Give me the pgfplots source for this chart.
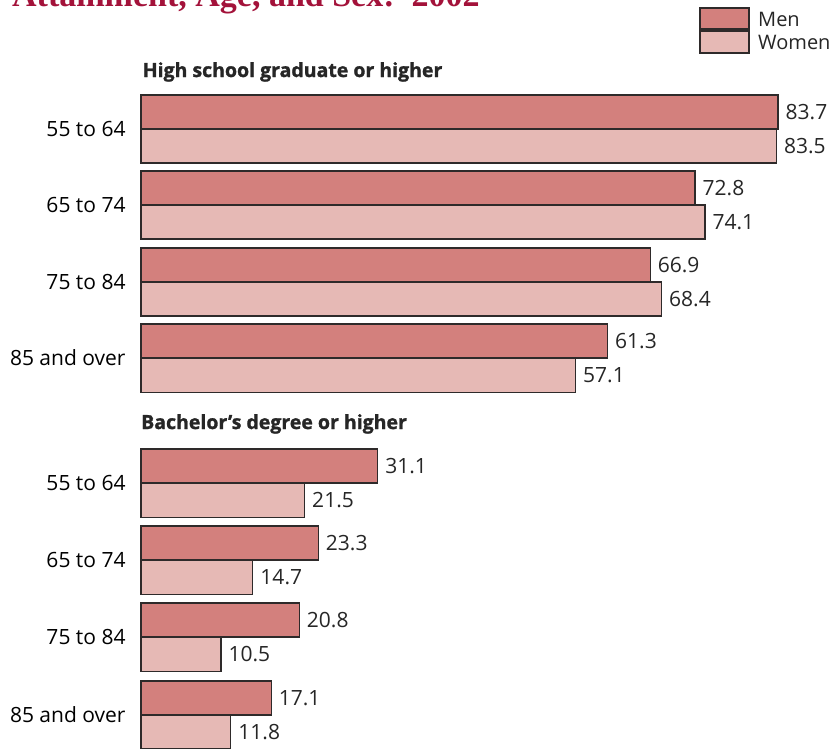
\documentclass[border=0pt]{standalone}
\usepackage{pgfplots}
\pgfplotsset{compat=1.18}
\usepackage{fontspec}
\setmainfont{Open Sans}
\newfontfamily\titlefont{Liberation Serif}
\newfontfamily\heavyfont{Open Sans}[BoldFeatures={FakeBold=1.3}]

\definecolor{menfill}{HTML}{D3807D}
\definecolor{womenfill}{HTML}{E6B9B5}
\definecolor{barline}{HTML}{2E2A2A}
\definecolor{titlered}{HTML}{A3123A}

\begin{document}
\begin{tikzpicture}
\path[use as bounding box] (0pt,0pt) rectangle (830pt,-749pt);

% title line, cut by the top of the page as in the source
\node[anchor=base west, inner sep=0pt, text=titlered,
      font=\titlefont\bfseries\fontsize{34}{40}\selectfont]
  at (12pt,-7pt) {Attainment, Age, and Sex:\ \ 2002};

\begin{axis}[
    at={(141pt,0pt)}, anchor=north west,
    scale only axis,
    width=685pt, height=749pt,
    xmin=0, xmax=90,
    ymin=0, ymax=749,
    y dir=reverse,
    clip=false,
    xbar,
    bar width=34,
    bar shift=0pt,
    axis line style={draw=none},
    tick style={draw=none},
    xtick=\empty,
    ytick={129,205,282,358,483,560,637,715},
    yticklabels={55 to 64,65 to 74,75 to 84,85 and over,
                 55 to 64,65 to 74,75 to 84,85 and over},
    yticklabel style={font=\fontsize{21}{25}\selectfont, inner sep=0pt, xshift=-11pt},
    /pgf/number format/.cd, fixed, fixed zerofill, precision=1, assume math mode=true,
    /pgfplots/.cd,
    nodes near coords,
    nodes near coords style={font=\fontsize{21}{25}\selectfont, anchor=west,
                             inner sep=0pt, xshift=7pt, text=black!85},
    every axis plot/.append style={draw=barline, line width=1.2pt},
]
\addplot[fill=menfill] coordinates {
    (83.7,112) (72.8,188) (66.9,265) (61.3,341)
    (31.1,466) (23.3,543) (20.8,620) (17.1,698)
};
\addplot[fill=womenfill] coordinates {
    (83.5,146) (74.1,222) (68.4,299) (57.1,375.5)
    (21.5,500.5) (14.7,577.5) (10.5,654.5) (11.8,732)
};

\node[anchor=base west, inner sep=0pt, font=\heavyfont\bfseries\fontsize{19.5}{23}\selectfont, text=black!85]
  at (axis cs:0.2,77) {High school graduate or higher};
\node[anchor=base west, inner sep=0pt, font=\heavyfont\bfseries\fontsize{19.5}{23}\selectfont, text=black!85]
  at (axis cs:0,429) {Bachelor’s degree or higher};
\end{axis}

% legend
\draw[fill=menfill, draw=barline, line width=1.2pt] (700pt,-8pt) rectangle (749pt,-29pt);
\draw[fill=womenfill, draw=barline, line width=1.2pt] (700pt,-31pt) rectangle (749pt,-53pt);
\node[anchor=base west, inner sep=0pt, text=black!85, font=\fontsize{20}{24}\selectfont]
  at (758pt,-27pt) {Men};
\node[anchor=base west, inner sep=0pt, text=black!85, font=\fontsize{20}{24}\selectfont]
  at (758pt,-50pt) {Women};
\end{tikzpicture}
\end{document}
